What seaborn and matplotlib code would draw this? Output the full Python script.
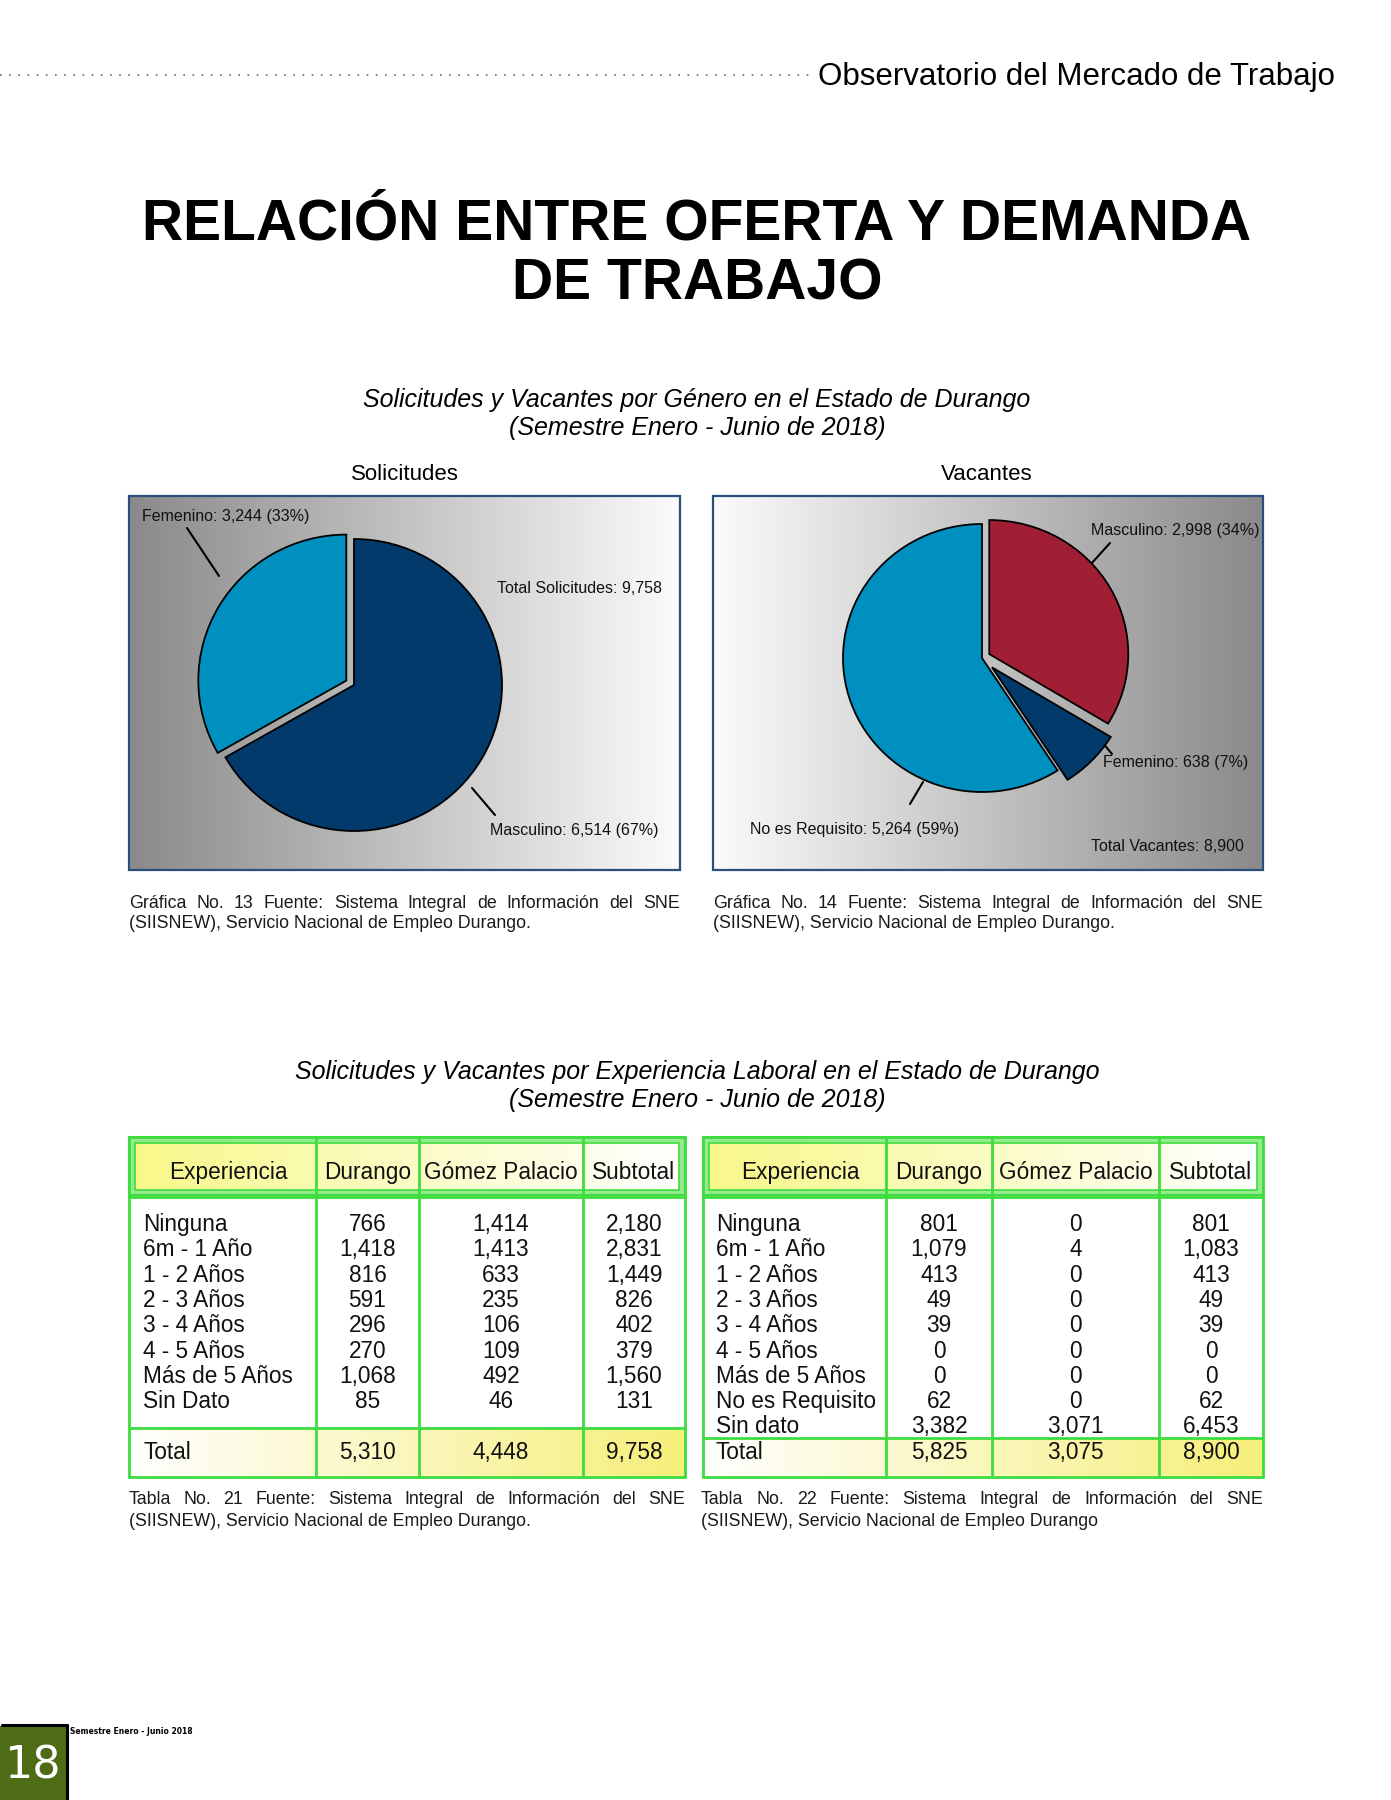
import numpy as np
import pandas as pd
import seaborn as sns
import matplotlib.pyplot as plt
from matplotlib.colors import LinearSegmentedColormap
from matplotlib.patches import Rectangle

# pie data
sol_labels = ['Masculino', 'Femenino']
sol_values = [6514, 3244]
sol_pct = [67, 33]
sol_colors = ['#013a6b', '#0090c0']

vac_labels = ['Masculino', 'Femenino', 'No es Requisito']
vac_values = [2998, 638, 5264]
vac_pct = [34, 7, 59]
vac_colors = ['#a01f35', '#013a6b', '#0090c0']

# table data
table_cols = ['Experiencia', 'Durango', 'Gómez Palacio', 'Subtotal']
sol_rows = ['Ninguna', '6m - 1 Año', '1 - 2 Años', '2 - 3 Años', '3 - 4 Años',
            '4 - 5 Años', 'Más de 5 Años', 'Sin Dato']
sol_durango = [766, 1418, 816, 591, 296, 270, 1068, 85]
sol_gomez = [1414, 1413, 633, 235, 106, 109, 492, 46]
sol_subtotal = [2180, 2831, 1449, 826, 402, 379, 1560, 131]
sol_total = [5310, 4448, 9758]

vac_rows = ['Ninguna', '6m - 1 Año', '1 - 2 Años', '2 - 3 Años', '3 - 4 Años',
            '4 - 5 Años', 'Más de 5 Años', 'No es Requisito', 'Sin dato']
vac_durango = [801, 1079, 413, 49, 39, 0, 0, 62, 3382]
vac_gomez = [0, 4, 0, 0, 0, 0, 0, 0, 3071]
vac_subtotal = [801, 1083, 413, 49, 39, 0, 0, 62, 6453]
vac_total = [5825, 3075, 8900]

sol_df = pd.DataFrame({'Experiencia': sol_rows, 'Durango': sol_durango,
                       'Gómez Palacio': sol_gomez, 'Subtotal': sol_subtotal})
vac_df = pd.DataFrame({'Experiencia': vac_rows, 'Durango': vac_durango,
                       'Gómez Palacio': vac_gomez, 'Subtotal': vac_subtotal})

sns.set_theme(style='white')
plt.rcParams['font.family'] = ['Liberation Sans', 'DejaVu Sans']
plt.rcParams['text.color'] = 'black'

W, H = 1391, 1800
fig = plt.figure(figsize=(W / 100, H / 100), dpi=100)
page = fig.add_axes([0, 0, 1, 1])
page.set_autoscale_on(False)
page.set_xlim(0, W)
page.set_ylim(H, 0)
page.axis('off')
renderer = fig.canvas.get_renderer()

GREEN = '#3fdc3f'
VA = 'center_baseline'


def gradient(x0, x1, y0, y1, c_left, c_right, z=0):
    cmap = LinearSegmentedColormap.from_list('g', [c_left, c_right])
    page.imshow(np.linspace(0, 1, 256)[None, :], cmap=cmap, extent=[x0, x1, y1, y0],
                aspect='auto', zorder=z, interpolation='bilinear')


def justify(text, x0, x1, y, size):
    words = text.split()
    objs = [page.text(0, y, w, fontsize=size, va=VA, ha='left', color='#1a1a1a') for w in words]
    widths = [o.get_window_extent(renderer).width for o in objs]
    gap = (x1 - x0 - sum(widths)) / (len(words) - 1)
    x = x0
    for o, w in zip(objs, widths):
        o.set_x(x)
        x += w + gap


def caption(line1, line2, x0, x1, y):
    justify(line1, x0, x1, y, 12.8)
    page.text(x0, y + 21, line2, fontsize=12.8, va=VA, ha='left', color='#1a1a1a')


# header
page.plot([0, 812], [75, 75], color='#666666', lw=1.2, linestyle=(0, (1, 4.5)))
page.text(818, 73, 'Observatorio del Mercado de Trabajo', fontsize=22.5, va=VA, ha='left')

page.text(697, 224, 'RELACIÓN ENTRE OFERTA Y DEMANDA', fontsize=41, fontweight='bold',
          ha='center', va='center')
page.text(697, 285, 'DE TRABAJO', fontsize=41, fontweight='bold', ha='center', va='center')

page.text(697, 398, 'Solicitudes y Vacantes por Género en el Estado de Durango',
          fontsize=18, style='italic', ha='center', va=VA)
page.text(697, 426, '(Semestre Enero - Junio de 2018)', fontsize=18, style='italic',
          ha='center', va=VA)

page.text(405, 472, 'Solicitudes', fontsize=16, ha='center', va=VA)
page.text(987, 472, 'Vacantes', fontsize=16, ha='center', va=VA)

# pie boxes
gradient(129, 680, 496, 870, '#8a8a8a', '#fbfbfb')
gradient(713, 1263, 496, 870, '#fbfbfb', '#8a8a8a')
for bx in [129, 713]:
    page.add_patch(Rectangle((bx, 496), 551 if bx == 129 else 550, 374, fill=False,
                             ec='#2b4f7d', lw=1.6, zorder=3))


def pie_axes(cx, cy, rx, ry, pad=1.35):
    ax = fig.add_axes([(cx - pad * rx) / W, 1 - (cy + pad * ry) / H,
                       2 * pad * rx / W, 2 * pad * ry / H])
    ax.set_zorder(2)
    return ax, pad


ax1, pad = pie_axes(354, 685, 148, 146)
ax1.pie(sol_values, colors=sol_colors, startangle=90, counterclock=False,
        explode=[0, 0.06], wedgeprops=dict(edgecolor='black', linewidth=1.3))
ax1.set_xlim(-pad, pad)
ax1.set_ylim(-pad, pad)
ax1.set_aspect('auto')
ax1.axis('off')

ax2, pad = pie_axes(982, 658, 139, 134)
ax2.pie(vac_values, colors=vac_colors, startangle=90, counterclock=False,
        explode=[0.06, 0.1, 0], wedgeprops=dict(edgecolor='black', linewidth=1.3))
ax2.set_xlim(-pad, pad)
ax2.set_ylim(-pad, pad)
ax2.set_aspect('auto')
ax2.axis('off')

lab = dict(fontsize=11.5, va=VA, ha='left', color='#111')
page.text(142, 515, f'{sol_labels[1]}: {sol_values[1]:,} ({sol_pct[1]}%)', **lab)
page.plot([187, 219], [528, 576], color='black', lw=1.5)
page.text(497, 587, f'Total Solicitudes: {sum(sol_values):,}', **lab)
page.text(490, 829, f'{sol_labels[0]}: {sol_values[0]:,} ({sol_pct[0]}%)', **lab)
page.plot([472, 495], [788, 815], color='black', lw=1.5)

page.text(1091, 529, f'{vac_labels[0]}: {vac_values[0]:,} ({vac_pct[0]}%)', **lab)
page.plot([1110, 1091], [543, 564], color='black', lw=1.5)
page.text(1103, 761, f'{vac_labels[1]}: {vac_values[1]:,} ({vac_pct[1]}%)', **lab)
page.plot([1097, 1112], [736, 754], color='black', lw=1.5)
page.text(750, 828, f'{vac_labels[2]}: {vac_values[2]:,} ({vac_pct[2]}%)', **lab)
page.plot([923, 910], [782, 804], color='black', lw=1.5)
page.text(1091, 845, f'Total Vacantes: {sum(vac_values):,}', **lab)

src = 'Fuente: Sistema Integral de Información del SNE'
caption(f'Gráfica No. 13 {src}', '(SIISNEW), Servicio Nacional de Empleo Durango.', 129, 680, 901)
caption(f'Gráfica No. 14 {src}', '(SIISNEW), Servicio Nacional de Empleo Durango.', 713, 1263, 901)

page.text(697, 1070, 'Solicitudes y Vacantes por Experiencia Laboral en el Estado de Durango',
          fontsize=18, style='italic', ha='center', va=VA)
page.text(697, 1097, '(Semestre Enero - Junio de 2018)', fontsize=18, style='italic',
          ha='center', va=VA)


def draw_table(df, total, xs, label_x, total_top):
    top, head_bot, body_top, bot = 1137, 1195, 1197, 1477
    # header band
    page.add_patch(Rectangle((xs[0], top), xs[-1] - xs[0], head_bot - top,
                             fc='#96ea8e', ec=GREEN, lw=1.5, zorder=1))
    gradient(xs[0] + 6, xs[-1] - 6, top + 6, head_bot - 5, '#f8f88a', '#ffffff', z=2)
    page.add_patch(Rectangle((xs[0] + 6, top + 6), xs[-1] - xs[0] - 12, head_bot - top - 11,
                             fill=False, ec=GREEN, lw=1.2, zorder=3))
    # total band
    gradient(xs[0], xs[-1], total_top, bot, '#ffffff', '#f6ef7a', z=1)
    for x in xs:
        page.plot([x, x], [top, bot], color=GREEN, lw=2, zorder=4)
    for y in [top, body_top, total_top, bot]:
        page.plot([xs[0], xs[-1]], [y, y], color=GREEN, lw=2, zorder=4)
    txt = dict(fontsize=16.3, va=VA, color='#111', zorder=5)
    centers = [(a + b) / 2 for a, b in zip(xs[:-1], xs[1:])]
    for c, name in zip(centers, table_cols):
        page.text(c + (6 if name == 'Experiencia' else 0), 1170, name, ha='center', **txt)
    for i, row in df.iterrows():
        y = 1222 + i * 25.3
        page.text(label_x, y, row['Experiencia'], ha='left', **txt)
        for c, col in zip(centers[1:], table_cols[1:]):
            page.text(c, y, f'{row[col]:,}', ha='center', **txt)
    page.text(label_x, 1450, 'Total', ha='left', **txt)
    for c, v in zip(centers[1:], total):
        page.text(c, 1450, f'{v:,}', ha='center', **txt)


draw_table(sol_df, sol_total, [129, 316, 419, 583, 685], 143, 1428)
draw_table(vac_df, vac_total, [703, 886, 992, 1159, 1263], 716, 1438)

caption(f'Tabla No. 21 {src}', '(SIISNEW), Servicio Nacional de Empleo Durango.', 129, 685, 1498)
caption(f'Tabla No. 22 {src}', '(SIISNEW), Servicio Nacional de Empleo Durango', 701, 1263, 1498)

# footer
page.add_patch(Rectangle((0, 1726), 66, 74, fc='#4e6b16', ec='none', zorder=2))
page.plot([2, 67], [1725, 1725], color='black', lw=2.2, zorder=3)
page.plot([67, 67], [1725, 1800], color='black', lw=2.2, zorder=3)
page.text(32, 1766, '18', fontsize=32, color='white', ha='center', va='center',
          family='DejaVu Sans', zorder=4)
page.text(70, 1732, 'Semestre Enero - Junio 2018', fontsize=5.5, fontweight='bold',
          family='DejaVu Sans', ha='left', va='center')

page.set_xlim(0, W)
page.set_ylim(H, 0)
fig.savefig('out.png', dpi=100)
